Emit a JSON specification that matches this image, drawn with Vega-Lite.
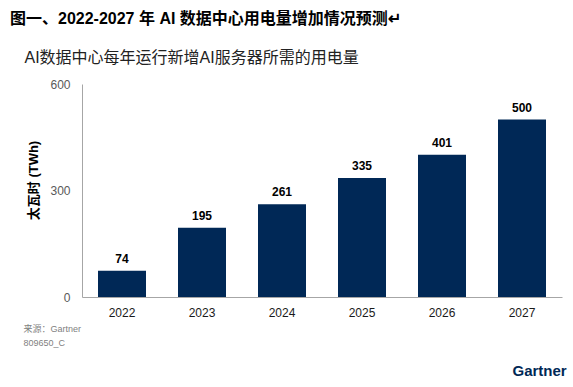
{
  "$schema": "https://vega.github.io/schema/vega-lite/v6.json",
  "autosize": "none",
  "width": 480,
  "height": 213,
  "padding": {"left": 82, "top": 84, "right": 11, "bottom": 90},
  "background": "white",
  "title": {
    "text": "图一、2022-2027 年 AI 数据中心用电量增加情况预测↵",
    "anchor": "start",
    "frame": "group",
    "dx": -72,
    "offset": 22,
    "font": "Liberation Sans, Noto Sans CJK SC",
    "fontSize": 16,
    "fontWeight": "bold",
    "color": "#000000"
  },
  "data": {
    "values": [
      {"year": "2022", "twh": 74},
      {"year": "2023", "twh": 195},
      {"year": "2024", "twh": 261},
      {"year": "2025", "twh": 335},
      {"year": "2026", "twh": 401},
      {"year": "2027", "twh": 500}
    ]
  },
  "config": {
    "view": {"stroke": null},
    "font": "Liberation Sans, Noto Sans CJK SC"
  },
  "encoding": {
    "x": {
      "field": "year",
      "type": "nominal",
      "sort": null,
      "scale": {"paddingInner": 0.4, "paddingOuter": 0.2},
      "axis": {
        "orient": "bottom",
        "labelAngle": 0,
        "labelFontSize": 12,
        "labelColor": "#1a1a1a",
        "labelPadding": 10,
        "ticks": false,
        "domainColor": "#a6a6a6",
        "domainWidth": 1,
        "title": ["来源：Gartner", "809650_C"],
        "titleFontSize": 9,
        "titleFontWeight": "normal",
        "titleColor": "#7f7f7f",
        "titleAlign": "left",
        "titleBaseline": "middle",
        "titleAnchor": "start",
        "titleAngle": 0,
        "titleX": -59,
        "titleY": 31,
        "titleLineHeight": 14
      }
    },
    "y": {
      "field": "twh",
      "type": "quantitative",
      "scale": {"domain": [0, 600], "nice": false}
    }
  },
  "layer": [
    {
      "mark": {"type": "bar", "color": "#002856"},
      "encoding": {
        "y": {
          "field": "twh",
          "type": "quantitative",
          "scale": {"domain": [0, 600], "nice": false},
          "axis": {
            "orient": "left",
            "values": [0, 300, 600],
            "grid": false,
            "ticks": false,
            "labelFontSize": 12,
            "labelColor": "#595959",
            "labelPadding": 12,
            "domainColor": "#a6a6a6",
            "title": "太瓦时 (TWh)",
            "titleFontSize": 13,
            "titleFontWeight": "bold",
            "titleColor": "#000000",
            "titleAngle": 270,
            "titleAlign": "center",
            "titleBaseline": "middle",
            "titleX": -49,
            "titleY": 96
          }
        }
      }
    },
    {
      "mark": {"type": "text", "baseline": "bottom", "dy": -5, "fontWeight": "bold", "fontSize": 12, "color": "#000000"},
      "encoding": {
        "text": {"field": "twh", "type": "quantitative"},
        "x": {
          "field": "year",
          "type": "nominal",
          "sort": null,
          "axis": {
            "orient": "top",
            "labels": false,
            "ticks": false,
            "domain": false,
            "grid": false,
            "title": "AI数据中心每年运行新增AI服务器所需的用电量",
            "titleFontSize": 16,
            "titleFontWeight": "normal",
            "titleColor": "#222222",
            "titleAngle": 0,
            "titleAlign": "left",
            "titleBaseline": "middle",
            "titleX": -58,
            "titleY": -27
          }
        },
        "y": {
          "field": "twh",
          "type": "quantitative",
          "scale": {"domain": [0, 600], "nice": false},
          "axis": {
            "orient": "right",
            "labels": false,
            "ticks": false,
            "domain": false,
            "grid": false,
            "title": "Gartner",
            "titleAngle": 0,
            "titleFontSize": 15,
            "titleFontWeight": "bold",
            "titleColor": "#002856",
            "titleAlign": "left",
            "titleBaseline": "middle",
            "titleX": -50,
            "titleY": 286
          }
        }
      }
    }
  ],
  "resolve": {"axis": {"x": "independent", "y": "independent"}}
}
